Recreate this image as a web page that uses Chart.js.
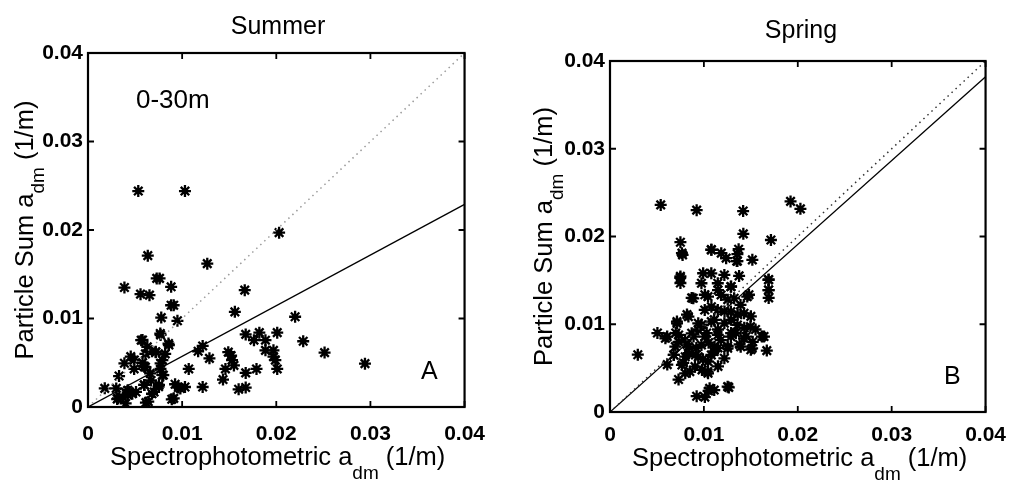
<!DOCTYPE html>
<html>
<head>
<meta charset="utf-8">
<script src="https://cdn.jsdelivr.net/npm/chart.js@4/dist/chart.umd.min.js"></script>
<style>
  body { margin: 0; background: #fff; }
  .panel { position: absolute; top: 0; }
</style>
</head>
<body>
<div class="panel" style="left:0"><canvas id="summer" width="500" height="487"></canvas></div>
<div class="panel" style="left:500px"><canvas id="spring" width="517" height="487"></canvas></div>
<script>
const tickValues = [0, 0.01, 0.02, 0.03, 0.04];
const tickLabels = ["0", "0.01", "0.02", "0.03", "0.04"];

const summerX = [0.00534, 0.0103, 0.0203, 0.00635, 0.01267, 0.0073, 0.0076, 0.00387, 0.00883, 0.00558,
  0.00653, 0.01665, 0.00883, 0.0091, 0.0156, 0.00778, 0.0095, 0.022, 0.00768, 0.0201,
  0.01675, 0.0182, 0.01763, 0.01885, 0.02286, 0.00565, 0.00855, 0.01218, 0.0117, 0.01885,
  0.0197, 0.02513, 0.02942, 0.0129, 0.0149, 0.0152, 0.0153, 0.0155, 0.0146, 0.0107,
  0.01675, 0.0179, 0.0201, 0.0197, 0.0199, 0.01434, 0.01218, 0.016, 0.01675, 0.00925,
  0.0103, 0.0096, 0.0089, 0.00178, 0.0033, 0.00387, 0.00454, 0.0049, 0.0058, 0.0061,
  0.0068, 0.0063, 0.0072, 0.0079, 0.0077, 0.008, 0.0066, 0.0061, 0.0067, 0.006,
  0.0075, 0.0068, 0.0064, 0.003, 0.0031, 0.004, 0.0044, 0.0047, 0.0051, 0.0037,
  0.0082, 0.00579, 0.00771, 0.00859, 0.00719, 0.00492, 0.00597, 0.00771, 0.00789, 0.00422,
  0.00754, 0.00981, 0.00318, 0.00422, 0.00615, 0.00702, 0.00911, 0.00597];
const summerY = [0.0244, 0.0244, 0.0197, 0.0171, 0.0162, 0.01453, 0.01453, 0.0135, 0.01358, 0.01275,
  0.01264, 0.0132, 0.0115, 0.0115, 0.01075, 0.0101, 0.00974, 0.0102, 0.0083, 0.0084,
  0.0082, 0.0084, 0.00755, 0.00755, 0.00743, 0.00755, 0.00717, 0.0069, 0.0063, 0.0064,
  0.0064, 0.00615, 0.0049, 0.0055, 0.0062, 0.0058, 0.0053, 0.0047, 0.0043, 0.0043,
  0.00385, 0.0043, 0.0043, 0.0057, 0.0053, 0.0031, 0.00226, 0.002, 0.0022, 0.00257,
  0.00226, 0.0022, 0.00087, 0.00211, 0.0035, 0.00494, 0.0057, 0.0043, 0.005, 0.006,
  0.0063, 0.0068, 0.0062, 0.0053, 0.0043, 0.0036, 0.0038, 0.0045, 0.003, 0.0025,
  0.0023, 0.0015, 0.0006, 0.0021, 0.0009, 0.0004, 0.0017, 0.0015, 0.0017, 0.0011,
  0.006, 0.00757, 0.00814, 0.007, 0.00625, 0.00531, 0.00456, 0.00494, 0.00362, 0.0019,
  0.00249, 0.0021, 0.00098, 0.00136, 0.0005, 0.0017, 0.00098, 0.00249];

const springX = [0.00296, 0.0054, 0.00923, 0.01418, 0.01923, 0.02028, 0.0142, 0.01714, 0.0075, 0.00773,
  0.0108, 0.01185, 0.01237, 0.0135, 0.0137, 0.01516, 0.0075, 0.0075, 0.0169, 0.0169,
  0.0169, 0.0148, 0.0087, 0.0101, 0.0115, 0.0129, 0.01254, 0.0108, 0.0122, 0.0136,
  0.015, 0.0111, 0.00976, 0.0082, 0.00714, 0.00505, 0.0059, 0.007, 0.008, 0.0089,
  0.0094, 0.0103, 0.0115, 0.0129, 0.0143, 0.0155, 0.0164, 0.0152, 0.0138, 0.01254,
  0.0115, 0.0105, 0.0092, 0.0082, 0.0073, 0.0068, 0.0061, 0.0078, 0.0085, 0.0073,
  0.0104, 0.0099, 0.0111, 0.015, 0.0167, 0.00923, 0.0101, 0.0105, 0.0111, 0.01265,
  0.0091, 0.0084, 0.0098, 0.0129, 0.0139, 0.0134, 0.0145, 0.0115, 0.0118,
  0.00992, 0.01079, 0.01218, 0.01375, 0.00974, 0.01148, 0.01287, 0.00887, 0.01044, 0.01183,
  0.01322, 0.01462, 0.01009, 0.01148, 0.01287, 0.01427, 0.00713, 0.00835, 0.0094, 0.01079,
  0.01218, 0.01357, 0.01496, 0.00609, 0.00731, 0.0087, 0.01009, 0.01148, 0.01287, 0.01427,
  0.01618, 0.00696, 0.00835, 0.00974, 0.01114, 0.01253, 0.01392, 0.01514, 0.00679, 0.00801,
  0.0094, 0.01079, 0.01218, 0.00766, 0.00905, 0.01044, 0.00801, 0.01044, 0.01253, 0.01061,
  0.00748, 0.00766, 0.01079, 0.01357, 0.01357, 0.01688, 0.01688];
const springY = [0.00653, 0.0236, 0.023, 0.0229, 0.024, 0.02315, 0.0203, 0.0196, 0.01935, 0.0179,
  0.01848, 0.0181, 0.01753, 0.0172, 0.01855, 0.01734, 0.01545, 0.0147, 0.0151, 0.0139,
  0.013, 0.01336, 0.013, 0.01336, 0.0139, 0.0143, 0.0128, 0.012, 0.01146, 0.0111,
  0.0109, 0.0105, 0.00995, 0.0111, 0.0101, 0.009, 0.0084, 0.009, 0.0082, 0.0086,
  0.0094, 0.009, 0.0094, 0.009, 0.0096, 0.0094, 0.0086, 0.008, 0.0077, 0.0075,
  0.0073, 0.0079, 0.0073, 0.0077, 0.008, 0.0065, 0.0054, 0.0056, 0.0046, 0.0037,
  0.0046, 0.006, 0.0069, 0.0071, 0.007, 0.0018, 0.0017, 0.0024, 0.0025, 0.0028,
  0.0065, 0.0067, 0.0048, 0.0105, 0.0122, 0.009, 0.0086, 0.0052, 0.0082,
  0.01581, 0.0158, 0.01562, 0.01551, 0.01467, 0.01467, 0.01428, 0.01296, 0.01315, 0.01334,
  0.01296, 0.01315, 0.01163, 0.01163, 0.01144, 0.01125, 0.0103, 0.01087, 0.01011, 0.0103,
  0.01011, 0.00992, 0.00973, 0.00859, 0.00878, 0.00897, 0.00859, 0.00878, 0.00859, 0.0084,
  0.00859, 0.00745, 0.00745, 0.00764, 0.00745, 0.00726, 0.00745, 0.00726, 0.0065, 0.0063,
  0.0063, 0.0065, 0.00612, 0.00536, 0.00517, 0.00574, 0.00441, 0.00441, 0.00289, 0.0027,
  0.0153, 0.0181, 0.0185, 0.018, 0.0172, 0.01505, 0.0139];

// regression end points [x0, y0, x1, y1]
const summerFit = [0, 0, 0.04, 0.0229];
const springFit = [0, 0, 0.04, 0.0382];
const oneToOne = [0, 0, 0.04, 0.04];

function points(xs, ys) {
  return xs.map((x, i) => ({ x: x, y: ys[i] }));
}

function segment(arr) {
  return [{ x: arr[0], y: arr[1] }, { x: arr[2], y: arr[3] }];
}

// draws text pieces, the ones marked sub are smaller and lower
function drawPieces(ctx, pieces, x, y, bigFont, smallFont, subShift) {
  let cx = x;
  pieces.forEach((p) => {
    ctx.font = p.sub ? smallFont : bigFont;
    ctx.fillText(p.t, cx, y + (p.sub ? subShift : 0));
    cx += ctx.measureText(p.t).width;
  });
  return cx - x;
}

function piecesWidth(ctx, pieces, bigFont, smallFont) {
  let w = 0;
  pieces.forEach((p) => {
    ctx.font = p.sub ? smallFont : bigFont;
    w += ctx.measureText(p.t).width;
  });
  return w;
}

const xTitle = [{ t: "Spectrophotometric a" }, { t: "dm", sub: true }, { t: " (1/m)" }];
const yTitle = [{ t: "Particle Sum a" }, { t: "dm", sub: true }, { t: " (1/m)" }];
const FONT = "'Liberation Sans', Arial, sans-serif";

function framePlugin(opts) {
  return {
    id: "frame",
    afterDraw(chart) {
      const ctx = chart.ctx;
      const a = chart.chartArea;
      const xs = chart.scales.x;
      const ys = chart.scales.y;
      ctx.save();
      ctx.strokeStyle = "#000";
      ctx.lineWidth = 2.2;
      ctx.strokeRect(a.left, a.top, a.right - a.left, a.bottom - a.top);
      ctx.lineWidth = 1.8;
      ctx.beginPath();
      tickValues.forEach((v) => {
        const px = xs.getPixelForValue(v);
        ctx.moveTo(px, a.bottom); ctx.lineTo(px, a.bottom - 6);
        ctx.moveTo(px, a.top); ctx.lineTo(px, a.top + 6);
        const py = ys.getPixelForValue(v);
        ctx.moveTo(a.left, py); ctx.lineTo(a.left + 6, py);
        ctx.moveTo(a.right, py); ctx.lineTo(a.right - 6, py);
      });
      ctx.stroke();

      ctx.fillStyle = "#000";
      ctx.textBaseline = "alphabetic";
      ctx.font = "25px " + FONT;
      ctx.textAlign = "center";
      ctx.fillText(opts.title, opts.titleX, opts.titleY);

      ctx.textAlign = "left";
      const big = "25.5px " + FONT;
      const small = "19px " + FONT;
      drawPieces(ctx, xTitle, opts.xTitleX, opts.xTitleY, big, small, 14);

      const yBig = "25.5px " + FONT;
      const ySmall = "19px " + FONT;
      const w = piecesWidth(ctx, yTitle, yBig, ySmall);
      ctx.save();
      ctx.translate(opts.yTitleX, (a.top + a.bottom) / 2);
      ctx.rotate(-Math.PI / 2);
      drawPieces(ctx, yTitle, -w / 2, 0, yBig, ySmall, 11);
      ctx.restore();

      ctx.font = "25px " + FONT;
      ctx.fillText(opts.letter, opts.letterX, opts.letterY);
      if (opts.note) {
        ctx.font = "26px " + FONT;
        ctx.fillText(opts.note, opts.noteX, opts.noteY);
      }
      ctx.restore();
    },
  };
}

function makeChart(id, pts, fit, dotColor, layout, frame) {
  const tickFont = { family: FONT, size: 21, weight: "bold" };
  return new Chart(document.getElementById(id), {
    type: "scatter",
    data: {
      datasets: [
        {
          type: "line",
          data: segment(oneToOne),
          borderColor: dotColor,
          borderWidth: 1.5,
          borderDash: [1.5, 4],
          pointRadius: 0,
        },
        {
          type: "line",
          data: segment(fit),
          borderColor: "#000",
          borderWidth: 1.3,
          pointRadius: 0,
        },
        {
          data: pts,
          pointStyle: "star",
          pointRadius: 6,
          borderColor: "#000",
          backgroundColor: "#000",
          borderWidth: 2.3,
        },
      ],
    },
    options: {
      responsive: false,
      animation: false,
      layout: { padding: { top: layout.top, right: layout.right, left: 0, bottom: 0 } },
      plugins: { legend: { display: false }, tooltip: { enabled: false } },
      scales: {
        x: {
          type: "linear",
          min: 0,
          max: 0.04,
          afterBuildTicks: (s) => { s.ticks = tickValues.map((v) => ({ value: v })); },
          afterFit: (s) => { s.height = layout.xHeight; },
          grid: { display: false, drawTicks: false },
          border: { display: false },
          ticks: {
            padding: layout.xPad,
            color: "#000",
            font: tickFont,
            maxRotation: 0,
            callback: (v) => tickLabels[tickValues.indexOf(v)],
          },
        },
        y: {
          type: "linear",
          min: 0,
          max: 0.04,
          afterBuildTicks: (s) => { s.ticks = tickValues.map((v) => ({ value: v })); },
          afterFit: (s) => { s.width = layout.yWidth; },
          grid: { display: false, drawTicks: false },
          border: { display: false },
          ticks: {
            padding: 5,
            color: "#000",
            font: tickFont,
            callback: (v) => tickLabels[tickValues.indexOf(v)],
          },
        },
      },
    },
    plugins: [framePlugin(frame)],
  });
}

makeChart("summer", points(summerX, summerY), summerFit, "#9a9a9a",
  { top: 53, right: 30, xHeight: 80, yWidth: 88, xPad: 15 },
  { title: "Summer", titleX: 278, titleY: 34, xTitleX: 110, xTitleY: 465, yTitleX: 33,
    letter: "A", letterX: 421, letterY: 379, note: "0-30m", noteX: 136, noteY: 108 });

makeChart("spring", points(springX, springY), springFit, "#333",
  { top: 61, right: 24, xHeight: 75, yWidth: 110, xPad: 11 },
  { title: "Spring", titleX: 301, titleY: 38, xTitleX: 132, xTitleY: 466, yTitleX: 52,
    letter: "B", letterX: 444, letterY: 384 });
</script>
</body>
</html>
